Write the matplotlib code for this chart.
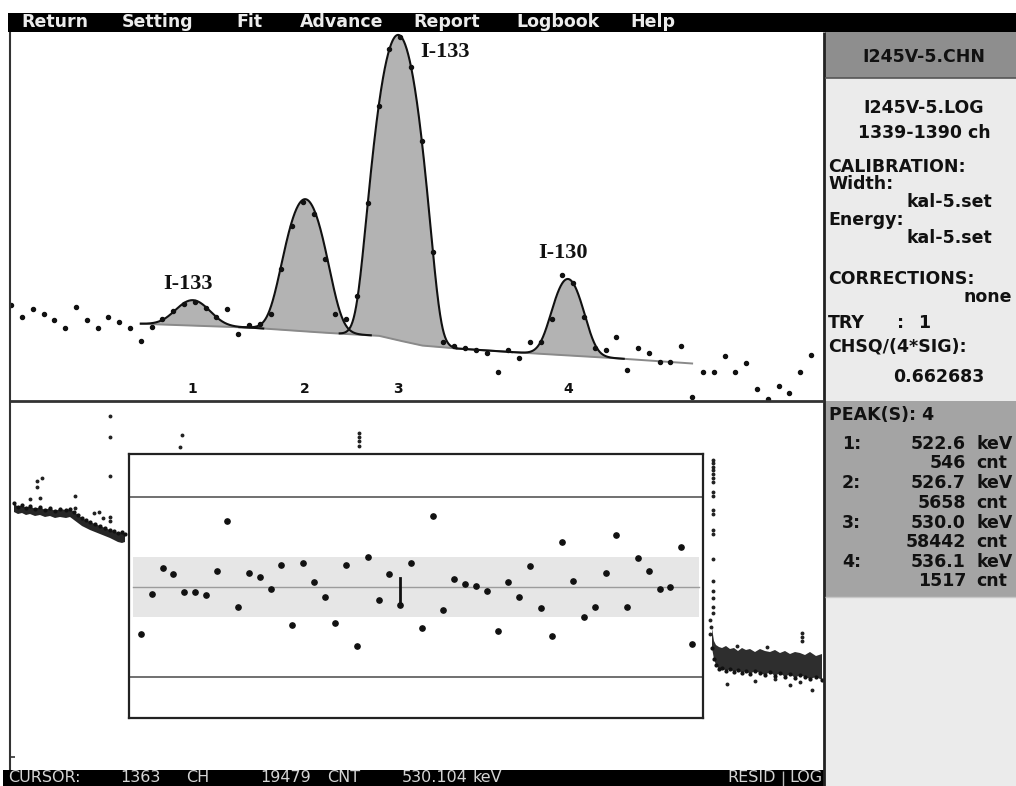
import numpy as np
import matplotlib
matplotlib.use("Agg")
import matplotlib.pyplot as plt
from matplotlib.patches import Rectangle
from matplotlib.lines import Line2D
from matplotlib.transforms import blended_transform_factory

# ---------------- data ----------------
# upper panel: measured spectrum (channel, counts), log display
spec_channels = np.arange(1327, 1402)
spec_counts = [310, 258, 291, 270, 246, 218, 300, 246, 218, 258, 239, 218,
               178, 221, 250, 282, 314, 324, 296, 258, 291, 196, 228, 231,
               270, 538, 1040, 1525, 1269, 627, 270, 250, 355, 1500, 6650, 16100,
               19479, 12200, 3870, 700, 173, 163, 158, 153, 146, 109, 153, 137,
               173, 173, 250, 490, 434, 258, 160, 155, 187, 113, 160, 146,
               127, 127, 163, 74, 109, 109, 140, 109, 125, 84, 72, 88,
               79, 109, 142]

fit_start, fit_end = 1339, 1390
baseline_ch = [1339, 1349, 1353, 1357, 1361, 1362.5, 1365, 1368, 1374, 1382, 1390]
baseline_counts = [231, 218, 208, 199, 192, 181, 165, 158, 148, 137, 125]

peak_centers = [1343.8, 1354.2, 1362.8, 1378.5]
peak_heights = [108, 1380, 19900, 320]
peak_sigmas = [1.45, 1.35, 1.2, 1.15]
peak_numbers = ["1", "2", "3", "4"]
peak_energies = ["522.6", "526.7", "530.0", "536.1"]
peak_areas = ["546", "5658", "58442", "1517"]

isotope_labels = ["I-133", "I-133", "I-130"]
isotope_ch = [1343.4, 1367.1, 1378.1]
isotope_counts = [430, 15400, 690]

# lower panel: residuals (in sigma) of the fit
resid_channels = np.arange(1339, 1391)
resid_sigma = [-1.57, -0.23, 0.63, 0.43, -0.17, -0.17, -0.27, 0.53, 2.2, -0.67,
               0.47, 0.33, -0.07, 0.73, -1.27, 0.8, 0.17, -0.33, -1.2, 0.73,
               -1.97, 1.0, -0.43, 0.43, -0.6, 0.8, -1.37, 2.37, -0.77, 0.27,
               0.1, 0.03, -0.13, -1.47, 0.17, -0.33, 0.7, -0.7, -1.63, 1.5,
               0.2, -1.0, -0.67, 0.47, 1.73, -0.67, 0.97, 0.53, -0.07, 0.0,
               1.33, -1.9]
cursor_channel = 1363
cursor_bar = [0.3, -0.6]

# lower panel: overview of the wider spectrum (bin, display level)
ov_left_x = [4, 8, 12, 16, 20, 25, 30, 35, 40, 45, 50, 56, 60, 64, 68, 72, 76,
             80, 85, 90, 95, 100, 104, 108, 112, 115]
ov_left_hi = [266, 262, 264, 261, 263, 260, 262, 259, 261, 258, 260, 259, 260,
              257, 254, 251, 249, 247, 245, 243, 241, 239, 238, 236, 237, 235]
ov_left_lo = [257, 255, 256, 254, 255, 253, 254, 252, 253, 251, 252, 251, 252,
              249, 246, 243, 241, 239, 237, 235, 233, 231, 229, 227, 226, 227]
ov_right_x = [702, 704, 706, 709, 712, 716, 720, 724, 728, 732, 736, 740, 745,
              750, 755, 760, 765, 770, 775, 780, 785, 790, 795, 800, 806, 812]
ov_right_hi = [141, 128, 124, 122, 121, 123, 120, 121, 118, 121, 119, 120, 117,
               120, 118, 117, 119, 116, 118, 115, 117, 116, 114, 117, 113, 115]
ov_right_lo = [121, 110, 104, 100, 101, 98, 100, 97, 99, 96, 98, 95, 98,
               96, 94, 97, 93, 96, 92, 95, 91, 94, 92, 90, 92, 89]
ov_pts_x = [100, 100, 100, 27, 32, 27, 20, 30, 65, 65, 84, 89, 93, 100, 100,
            172, 170, 349, 349, 349, 349,
            703, 703, 703, 703, 703, 703, 703, 703, 703, 703, 703, 703, 703,
            703, 703, 703, 703, 703, 703, 700, 701, 700,
            792, 792, 792, 717, 780, 802, 745, 765, 727, 757, 790]
ov_pts_y = [353, 332, 293, 288, 291, 282, 270, 271, 273, 261, 256, 257, 251, 252, 248,
            334, 322, 336, 332, 328, 323,
            309, 306, 302, 299, 295, 291, 287, 277, 273, 259, 255, 239, 235,
            210, 188, 178, 171, 162, 156, 149, 142, 135,
            136, 132, 128, 85, 84, 79, 88, 90, 123, 122, 87]

menu_items = ["Return", "Setting", "Fit", "Advance", "Report", "Logbook", "Help"]
status_items = ["CURSOR:", "1363", "CH", "19479", "CNT", "530.104", "keV", "RESID", "LOG"]

# ---------------- layout helpers ----------------
W, H = 1016, 786
fig = plt.figure(figsize=(W / 100, H / 100), dpi=100)
fig.patch.set_facecolor('white')


def fx(x):
    return x / W


def fy(y):
    return 1 - y / H


def add_rect(x0, y0, x1, y1, color, z=-1):
    fig.add_artist(Rectangle((fx(x0), fy(y1)), (x1 - x0) / W, (y1 - y0) / H,
                             transform=fig.transFigure, facecolor=color,
                             edgecolor='none', zorder=z))


def add_line(xs, ys, color, lw, z=10):
    fig.add_artist(Line2D([fx(x) for x in xs], [fy(y) for y in ys],
                          transform=fig.transFigure, color=color, linewidth=lw,
                          zorder=z, solid_capstyle='butt'))


def axes_at(x0, y0, x1, y1):
    return fig.add_axes([fx(x0), fy(y1), (x1 - x0) / W, (y1 - y0) / H])


def ftext(x, y, s, **kw):
    base = dict(va='center', family='DejaVu Sans', fontweight='bold',
                fontsize=12.5, color='#111111')
    base.update(kw)
    fig.text(fx(x), fy(y), s, **base)


# ---------------- screen panels ----------------
add_rect(8, 13, 1016, 32, 'black')
add_rect(825, 32, 1016, 78, '#8e8e8e')
add_rect(825, 78, 1016, 401, '#ebebeb')
add_rect(825, 401, 1016, 597, '#a4a4a4')
add_rect(825, 597, 1016, 786, '#ebebeb')
add_rect(3, 770, 824, 786, 'black')

add_line([824, 824], [32, 786], '#222222', 2.0)
add_line([10, 10], [32, 770], '#333333', 1.5)
add_line([10, 824], [401, 401], '#333333', 2.0)
add_line([825, 1016], [78, 78], '#555555', 1.2)
add_line([825, 1016], [597, 597], '#c8c8c8', 1.0)
add_line([10, 15], [757, 757], '#333333', 1.2)

# menu bar
menu_x = [21, 122, 236, 300, 413, 516, 630]
for s, x in zip(menu_items, menu_x):
    ftext(x, 22, s, color='#ececec', fontsize=12.5)

# status bar
status_x = [8, 120, 186, 260, 327, 402, 473, 727, 789]
for s, x in zip(status_items, status_x):
    ftext(x, 778, s, color='#d4d4d4', fontweight='normal', fontsize=11.5)
add_line([783, 783], [771, 786], '#bbbbbb', 1.0)

# ---------------- upper panel: spectrum + fit ----------------
ax = axes_at(10, 32, 824, 401)
ax.set_yscale('log')
ax.set_xlim(1326.9, 1402.2)
ax.set_ylim(70, 21000)
ax.axis('off')
ax.set_zorder(1)

log_b = np.log10(baseline_counts)


def base_at(x):
    return 10 ** np.interp(x, baseline_ch, log_b)


ranges = []
for c, h, s in zip(peak_centers, peak_heights, peak_sigmas):
    lo, hi = max(c - 4.5 * s, fit_start), min(c + 4.5 * s, fit_end)
    x = np.linspace(lo, hi, 400)
    b = base_at(x)
    y = b + h * np.exp(-0.5 * ((x - c) / s) ** 2)
    ax.fill_between(x, b, y, color='#b3b3b3', lw=0, zorder=2)
    ax.plot(x, y, color='#111111', lw=1.5, zorder=4)
    ranges.append((lo, hi))

xb = np.linspace(fit_start, fit_end, 600)
ax.plot(xb, base_at(xb), color='#8a8a8a', lw=1.4, zorder=3)
for (lo0, hi0), (lo1, hi1) in zip(ranges[:-1], ranges[1:]):
    if hi0 < lo1:
        xs = np.linspace(hi0, lo1, 100)
        ax.plot(xs, base_at(xs), color='#111111', lw=1.5, zorder=4)

ax.plot(spec_channels, spec_counts, 'o', ms=2.9, color='#111111', zorder=5)

trans = blended_transform_factory(ax.transData, ax.transAxes)
for c, n in zip(peak_centers, peak_numbers):
    ax.text(c, 0.033, n, transform=trans, ha='center', va='center',
            fontsize=10, fontweight='bold', family='DejaVu Sans', color='#111111')

for lab, c, y in zip(isotope_labels, isotope_ch, isotope_counts):
    ax.text(c, y, lab, ha='center', va='center', fontsize=16,
            fontweight='bold', family='Liberation Serif', color='#111111')

# ---------------- lower panel: overview + residual window ----------------
ov = axes_at(10, 402, 824, 769)
ov.set_xlim(0, 814)
ov.set_ylim(0, 367)
ov.axis('off')
ov.set_zorder(1)
ov.fill_between(ov_left_x, ov_left_lo, ov_left_hi, facecolor='#262626', lw=0)
ov.fill_between(ov_right_x, ov_right_lo, ov_right_hi, facecolor='#2e2e2e', lw=0)
ov.plot(ov_left_x, ov_left_hi, 'o', ms=2.0, color='#111111')
ov.plot(ov_right_x, ov_right_lo, 'o', ms=2.0, color='#111111')
ov.plot(ov_pts_x, ov_pts_y, 'o', ms=1.8, color='#222222')

ins = axes_at(129, 454, 703, 718)
ins.set_zorder(3)
ins.set_facecolor('white')
ins.set_xlim(1337.89, 1391.02)
ins.set_ylim(-4.37, 4.43)
ins.set_xticks([])
ins.set_yticks([])
for sp in ins.spines.values():
    sp.set_linewidth(1.6)
    sp.set_color('#222222')
ins.axhspan(-1, 1, xmin=0.007, xmax=0.993, color='#e6e6e6', lw=0, zorder=0)
ins.axhline(0, xmin=0.007, xmax=0.993, color='#9c9c9c', lw=1.0, zorder=1)
for lvl in (-3, 3):
    ins.axhline(lvl, color='#707070', lw=1.4, zorder=1)
ins.plot(resid_channels, resid_sigma, 'o', ms=3.8, color='#111111', zorder=3)
ins.plot([cursor_channel, cursor_channel], cursor_bar, color='#111111', lw=2, zorder=3)

# ---------------- right information panel ----------------
ftext(924, 57, "I245V-5.CHN", ha='center')
ftext(924, 108, "I245V-5.LOG", ha='center')
ftext(924, 133, "1339-1390 ch", ha='center')
ftext(828, 167, "CALIBRATION:")
ftext(828, 184, "Width:")
ftext(907, 202, "kal-5.set")
ftext(828, 220, "Energy:")
ftext(907, 238, "kal-5.set")
ftext(828, 279, "CORRECTIONS:")
ftext(1012, 297, "none", ha='right')
ftext(828, 323, "TRY")
ftext(897, 323, ":")
ftext(918, 323, "1")
ftext(828, 346, "CHSQ/(4*SIG):")
ftext(893, 377, "0.662683")

ftext(829, 415, "PEAK(S): %d" % len(peak_centers))
for i, (n, e, a) in enumerate(zip(peak_numbers, peak_energies, peak_areas)):
    y0 = 444 + 39.3 * i
    ftext(842, y0, n + ":")
    ftext(966, y0, e, ha='right')
    ftext(976, y0, "keV")
    ftext(966, y0 + 19.5, a, ha='right')
    ftext(976, y0 + 19.5, "cnt")

fig.savefig("out.png", dpi=100, facecolor='white')
